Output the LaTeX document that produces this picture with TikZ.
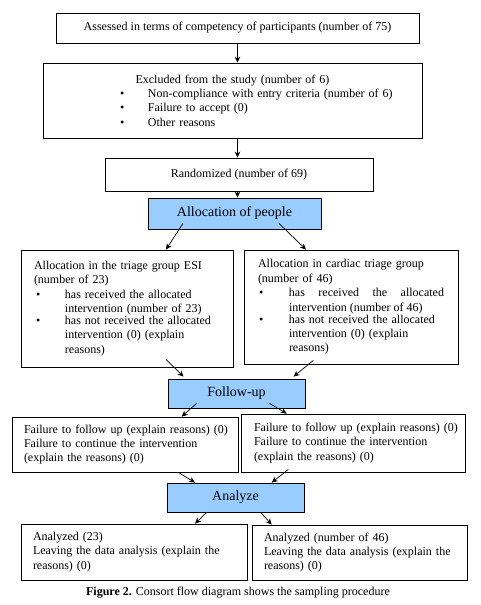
\documentclass[tikz,border=0pt]{standalone}
\usepackage{fontspec}
\setmainfont{Liberation Serif}
\usepackage{tikz}
\usetikzlibrary{arrows.meta}
\usepackage{xcolor}
\definecolor{headblue}{HTML}{99CCFF}
\newcommand{\boxfont}{\fontsize{12}{14.4}\selectfont}
\newcommand{\headfont}{\fontsize{14}{16}\selectfont}
\newlength\bpre
\newlength\bgap
\newcommand{\bitem}[2][\raggedright]{\par\noindent\hspace*{\bpre}\makebox[\bgap][l]{\textbullet}%
  \parbox[t]{\dimexpr\linewidth-\bpre-\bgap\relax}{#1#2}}
\newcommand{\justit}{\rightskip=0pt\spaceskip=0pt\xspaceskip=0pt\relax}

\begin{document}
\begin{tikzpicture}[x=1pt,y=-1pt,
  box/.style={rectangle,draw,line width=0.8pt,inner sep=0pt,font=\boxfont},
  head/.style={rectangle,draw,line width=0.8pt,fill=headblue,inner sep=0pt,font=\headfont},
  arr/.style={-{Stealth[length=6pt,width=5.5pt]},line width=0.7pt}]
\useasboundingbox (0,0) rectangle (481,605);
\node (assessed) at (237.5,28) [box,minimum width=363pt,minimum height=30pt] {Assessed in terms of competency of participants (number of 75)};
\node (excluded) at (232.5,100.5) [box,minimum width=379pt,minimum height=75pt,text width=330pt,align=left]
  {\setlength\bpre{52.5pt}\setlength\bgap{28pt}%
   {\centering Excluded from the study (number of 6)\par}
   \bitem{Non-compliance with entry criteria (number of 6)}
   \bitem{Failure to accept (0)}
   \bitem{Other reasons}};
\node (randomized) at (239,174.5) [box,minimum width=268pt,minimum height=33pt] {Randomized (number of 69)};
\node (alloc) at (234.5,213.5) [head,minimum width=173pt,minimum height=31pt] {Allocation of people};
\node (esi) at (127,308.5) [box,minimum width=212pt,minimum height=117pt,text width=186pt,align=left]
  {\setlength\bpre{2pt}\setlength\bgap{29pt}%
   Allocation in the triage group ESI\\
   (number of 23)
   \bitem{has received the allocated\\intervention (number of 23)}
   \bitem{has not received the allocated\\intervention (0) (explain\\reasons)}};
\node (cardiac) at (351,307) [box,minimum width=214pt,minimum height=114pt,text width=186pt,align=left]
  {\setlength\bpre{1pt}\setlength\bgap{30pt}%
   Allocation in cardiac triage group\\
   (number of 46)
   \bitem[\justit]{has received the allocated\linebreak intervention (number of 46)}
   \bitem{has not received the allocated\\intervention (0) (explain\\reasons)}};
\node (fup) at (236.5,393.5) [head,minimum width=137pt,minimum height=29pt] {Follow-up};
\node (fupesi) at (125,444.5) [box,minimum width=226pt,minimum height=55pt,text width=202pt,align=left]
  {\mbox{Failure to follow up (explain reasons) (0)}\\
   \mbox{Failure to continue the intervention}\\
   \mbox{(explain the reasons) (0)}};
\node (fupcard) at (353,443) [box,minimum width=224pt,minimum height=58pt,text width=198pt,align=left]
  {\mbox{Failure to follow up (explain reasons) (0)}\\
   \mbox{Failure to continue the intervention}\\
   \mbox{(explain the reasons) (0)}};
\node (analyze) at (235.5,497.5) [head,minimum width=137pt,minimum height=29pt] {Analyze};
\node (anesi) at (134,552) [box,minimum width=226pt,minimum height=56pt,text width=202pt,align=left]
  {Analyzed (23)\\
   \mbox{Leaving the data analysis (explain the}\\
   reasons) (0)};
\node (ancard) at (359.5,552.5) [box,minimum width=215pt,minimum height=55pt,text width=191pt,align=left]
  {Analyzed (number of 46)\\
   \mbox{Leaving the data analysis (explain the}\\
   reasons) (0)};
\node (caption) at (238,593) [font=\boxfont] {\textbf{Figure 2.} Consort flow diagram shows the sampling procedure};

\draw[arr] (assessed.south) -- (assessed.south |- excluded.north);
\draw[arr] (excluded.south -| assessed.south) -- (randomized.north -| assessed.south);
\draw[arr] (randomized.south -| assessed.south) -- (alloc.north -| assessed.south);
\draw[arr] ([xshift=-51.5pt,yshift=6pt]alloc.south) -- ([xshift=39pt]esi.north);
\draw[arr] ([xshift=44.5pt,yshift=6pt]alloc.south) -- ([xshift=-45pt]cardiac.north);
\draw[arr] ([xshift=39pt,yshift=8pt]esi.south) -- ([xshift=-53pt,yshift=2pt]fup.north);
\draw[arr] ([xshift=-37.7pt,yshift=4pt]cardiac.south) -- ([xshift=57pt,yshift=2pt]fup.north);
\draw[arr] ([xshift=-40pt,yshift=5pt]fup.south) -- ([xshift=56.7pt]fupesi.north);
\draw[arr] ([xshift=33pt,yshift=5pt]fup.south) -- ([xshift=-66.3pt]fupcard.north);
\draw[arr] ([xshift=53.3pt]fupesi.south) -- ([xshift=-40.5pt]analyze.north);
\draw[arr] ([xshift=-64.7pt,yshift=3pt]fupcard.south) -- ([xshift=36.2pt]analyze.north);
\draw[arr] ([xshift=-28.8pt]analyze.south) -- ([xshift=61pt]anesi.north);
\draw[arr] ([xshift=25.2pt]analyze.south) -- ([xshift=-87.8pt]ancard.north);
\end{tikzpicture}
\end{document}
